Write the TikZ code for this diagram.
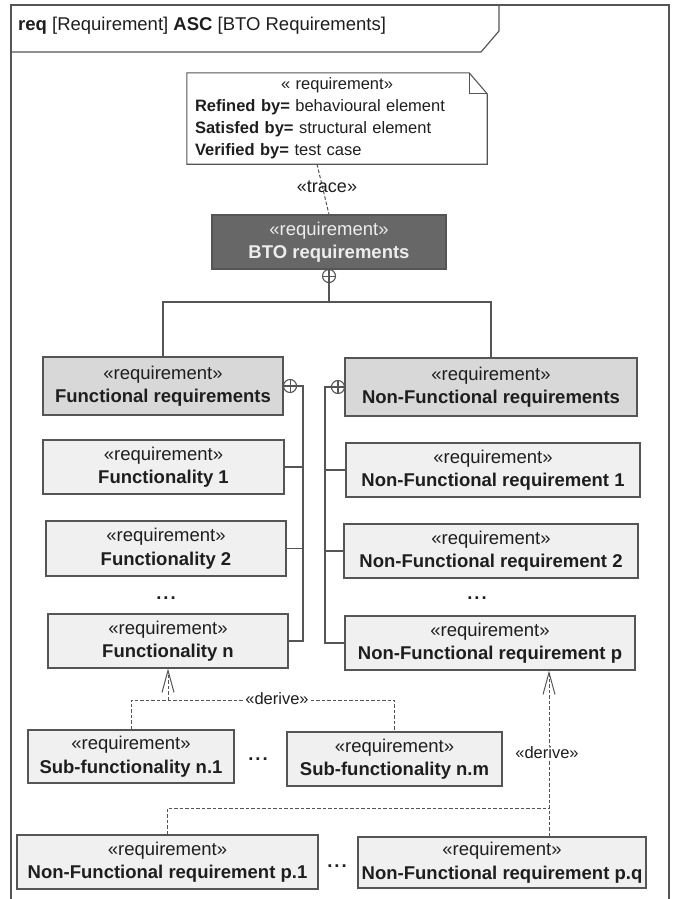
\documentclass[tikz,border=0pt]{standalone}
\usepackage{fontspec}
\setmainfont{Liberation Sans}
\usetikzlibrary{arrows.meta,calc}

\definecolor{edge}{HTML}{555555}
\definecolor{boxfill}{HTML}{F0F0F0}
\definecolor{headfill}{HTML}{D8D8D8}
\definecolor{topfill}{HTML}{676767}
\definecolor{ink}{HTML}{1E1E1E}

\newcommand\reqst{«requirement»}

\begin{document}
\begin{tikzpicture}[x=1pt,y=-1pt,
  reqbox/.style={draw=edge, line width=1.1pt, fill=boxfill, text=ink,
    align=center, inner sep=0pt, font=\fontsize{18.5}{23.5}\selectfont},
  headbox/.style={reqbox, fill=headfill},
  topbox/.style={reqbox, fill=topfill, text=white!93!black},
  link/.style={draw=edge, line width=1.1pt},
  dep/.style={draw=edge, line width=1pt, dash pattern=on 3.5pt off 2pt},
  derivearrow/.style={dep, -{Straight Barb[length=22pt, width=12pt, line width=1pt]}},
  lbl/.style={text=ink, inner sep=1pt, font=\fontsize{16.5}{20}\selectfont},
  dots/.style={text=ink, inner sep=0pt, font=\fontsize{18.5}{20}\selectfont\bfseries},
  framestyle/.style={draw=edge, line width=1.2pt}
]
\useasboundingbox (0,0) rectangle (675,899);

% diagram frame with its name tab
\draw[framestyle] (11,899) -- (11,5) -- (669,5) -- (669,899);
\draw[framestyle] (11,52) -- (481,52) -- (499,31) -- (499,5);
\node[anchor=west, text=ink, inner sep=0pt, font=\fontsize{18.5}{22}\selectfont]
  (title) at (18,26) {\textbf{req} [Requirement] \textbf{ASC} [BTO Requirements]};

% comment note with folded corner
\node[text=ink, text width=284pt, inner xsep=8pt, inner ysep=0pt,
  minimum width=300pt, minimum height=91pt, align=left,
  font=\fontsize{16.5}{22}\selectfont] (note) at (337,118.5)
  {\makebox[\linewidth][c]{« requirement»}\\
   \textbf{Refined by=} behavioural element\\
   \textbf{Satisfed by=} structural element\\
   \textbf{Verified by=} test case};
\draw[framestyle, line width=1.1pt] (note.north west) -- ([xshift=-18pt]note.north east)
  -- ([yshift=-21pt]note.north east) -- (note.south east) -- (note.south west) -- cycle;
\draw[framestyle, line width=1.1pt] ([xshift=-18pt]note.north east)
  -- ([xshift=-18pt,yshift=-21pt]note.north east) -- ([yshift=-21pt]note.north east);

% requirement blocks
\node[topbox, minimum width=234pt, minimum height=54pt] (bto) at (329,242)
  {\reqst\\\textbf{BTO requirements}};

\node[headbox, minimum width=240pt, minimum height=58pt] (fr) at (163,386)
  {\reqst\\\textbf{Functional requirements}};
\node[headbox, minimum width=292pt, minimum height=58pt] (nfr) at (491,387)
  {\reqst\\\textbf{Non-Functional requirements}};

\node[reqbox, minimum width=241pt, minimum height=54pt] (f1) at (163.5,467)
  {\reqst\\\textbf{Functionality 1}};
\node[reqbox, minimum width=240pt, minimum height=55pt] (f2) at (166,548.5)
  {\reqst\\\textbf{Functionality 2}};
\node[reqbox, minimum width=240pt, minimum height=54pt] (fn) at (168,641)
  {\reqst\\\textbf{Functionality n}};

\node[reqbox, minimum width=294pt, minimum height=54pt] (nf1) at (493,470)
  {\reqst\\\textbf{Non-Functional requirement 1}};
\node[reqbox, minimum width=294pt, minimum height=54pt] (nf2) at (491,551)
  {\reqst\\\textbf{Non-Functional requirement 2}};
\node[reqbox, minimum width=290pt, minimum height=54pt] (nfp) at (490,643)
  {\reqst\\\textbf{Non-Functional requirement p}};

\node[reqbox, minimum width=206pt, minimum height=53pt] (s1) at (131,756.5)
  {\reqst\\\textbf{Sub-functionality n.1}};
\node[reqbox, minimum width=215pt, minimum height=54pt] (sm) at (394.5,759)
  {\reqst\\\textbf{Sub-functionality n.m}};

\node[reqbox, minimum width=301pt, minimum height=54pt] (p1) at (167.5,862)
  {\reqst\\\textbf{Non-Functional requirement p.1}};
\node[reqbox, minimum width=288pt, minimum height=51pt] (pq) at (502,862.5)
  {\reqst\\\textbf{Non-Functional requirement p.q}};

% elision marks
\node[dots] (fdots) at (166,598) {.\kern2pt.\kern2pt.};
\node[dots] (nfdots) at (477,598) {.\kern2pt.\kern2pt.};
\node[dots] (sdots) at (258,759) {.\kern2pt.\kern2pt.};
\node[dots] (pdots) at (337,866) {.\kern2pt.\kern2pt.};

% trace dependency
\draw[dep] ([xshift=-20pt]note.south) -- (bto.north);
\node[lbl, font=\fontsize{18}{20}\selectfont] (tracelbl) at (327,187) {«trace»};

% containment: BTO -> functional / non-functional
\coordinate (bc) at ($(bto.south)+(0,6.5)$);
\coordinate (split) at (0,302);
\draw[link] (bc) circle[radius=6.5pt];
\draw[link] ($(bc)+(-6.5,0)$) -- ($(bc)+(6.5,0)$) ($(bc)+(0,-6.5)$) -- ($(bc)+(0,6.5)$);
\draw[link] ($(bc)+(0,6.5)$) -- (bc |- split) -| (fr.north);
\draw[link] (bc |- split) -| (nfr.north);

% containment: functional requirements
\coordinate (fc) at ($(fr.east)+(6.5,0)$);
\coordinate (fbus) at (303,0);
\draw[link] (fc) circle[radius=6.5pt];
\draw[link] ($(fc)+(-6.5,0)$) -- ($(fc)+(6.5,0)$) ($(fc)+(0,-6.5)$) -- ($(fc)+(0,6.5)$);
\draw[link] ($(fc)+(6.5,0)$) -- (fbus |- fc) -- (fbus |- fn.east) -- (fn.east);
\draw[link] (f1.east) -- (fbus |- f1.east);
\draw[link] (f2.east) -- (fbus |- f2.east);

% containment: non-functional requirements
\coordinate (nc) at ($(nfr.west)+(-6.5,0)$);
\coordinate (nbus) at (325,0);
\draw[link] (nc) circle[radius=6.5pt];
\draw[link] ($(nc)+(-6.5,0)$) -- ($(nc)+(6.5,0)$) ($(nc)+(0,-6.5)$) -- ($(nc)+(0,6.5)$);
\draw[link] ($(nc)+(-6.5,0)$) -- (nbus |- nc) -- (nbus |- nfp.west) -- (nfp.west);
\draw[link] (nf1.west) -- (nbus |- nf1.west);
\draw[link] (nf2.west) -- (nbus |- nf2.west);

% derive: sub-functionalities -> functionality n
\coordinate (d1) at (0,700);
\draw[dep] (s1.north) -- (s1.north |- d1) -- (sm.north |- d1) -- (sm.north);
\draw[derivearrow] (fn.south |- d1) -- (fn.south);
\node[lbl, fill=white] (der1) at (277,699) {«derive»};

% derive: sub-requirements -> non-functional requirement p
\coordinate (d2) at (0,808);
\coordinate (px) at (549,0);
\draw[dep] (p1.north) -- (p1.north |- d2) -- (px |- d2);
\draw[derivearrow] (px |- pq.north) -- (px |- nfp.south);
\node[lbl, fill=white] (der2) at (547,753) {«derive»};
\end{tikzpicture}
\end{document}
